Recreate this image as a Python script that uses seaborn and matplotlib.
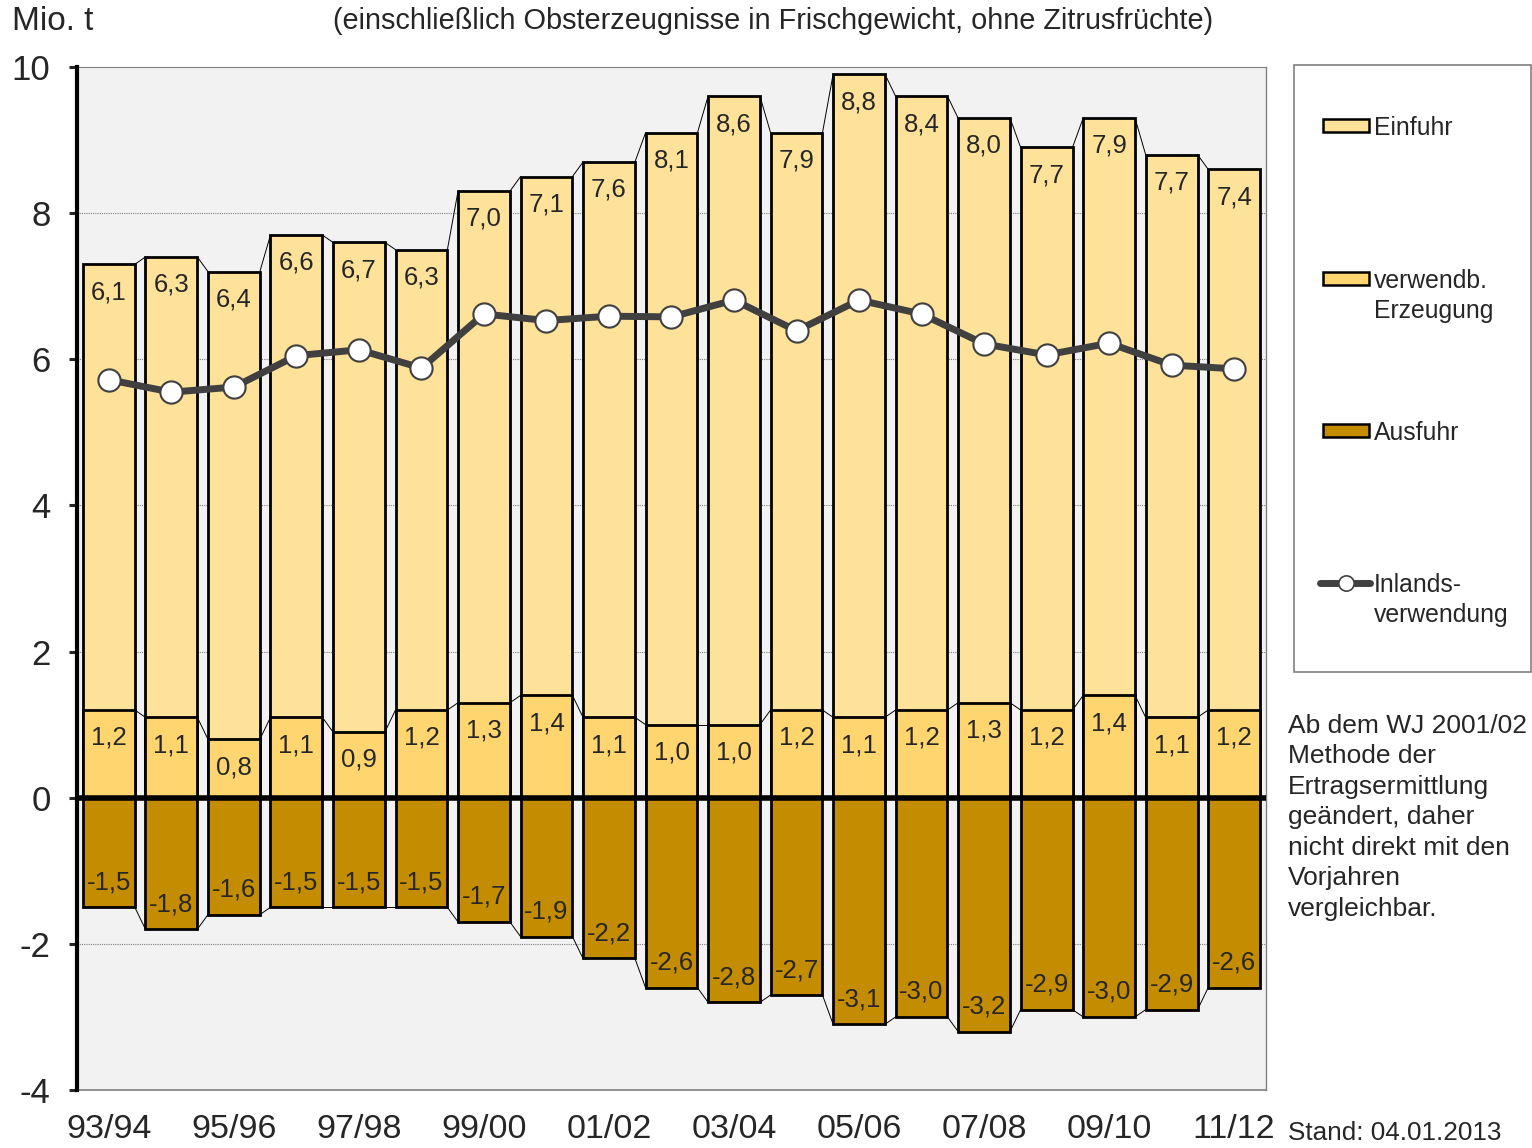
import numpy as np
import seaborn as sns
import matplotlib.pyplot as plt
from matplotlib.patches import Rectangle
from matplotlib.lines import Line2D

# Wirtschaftsjahre
years = ["93/94", "94/95", "95/96", "96/97", "97/98", "98/99", "99/00", "00/01",
         "01/02", "02/03", "03/04", "04/05", "05/06", "06/07", "07/08", "08/09",
         "09/10", "10/11", "11/12"]
einfuhr = [6.1, 6.3, 6.4, 6.6, 6.7, 6.3, 7.0, 7.1, 7.6, 8.1, 8.6, 7.9, 8.8, 8.4,
           8.0, 7.7, 7.9, 7.7, 7.4]
erzeugung = [1.2, 1.1, 0.8, 1.1, 0.9, 1.2, 1.3, 1.4, 1.1, 1.0, 1.0, 1.2, 1.1, 1.2,
             1.3, 1.2, 1.4, 1.1, 1.2]
ausfuhr = [-1.5, -1.8, -1.6, -1.5, -1.5, -1.5, -1.7, -1.9, -2.2, -2.6, -2.8, -2.7,
           -3.1, -3.0, -3.2, -2.9, -3.0, -2.9, -2.6]
inland = [5.72, 5.55, 5.62, 6.05, 6.13, 5.88, 6.62, 6.53, 6.59, 6.58, 6.81, 6.39,
          6.81, 6.62, 6.21, 6.06, 6.22, 5.92, 5.87]

c_ein = "#FFE29A"
c_erz = "#FFD56F"
c_aus = "#C48C00"
c_line = "#404040"

sns.set_style("white")
plt.rcParams['font.family'] = ['Liberation Sans', 'DejaVu Sans']
plt.rcParams['axes.unicode_minus'] = False

fig = plt.figure(figsize=(15.32, 11.48), dpi=100)
ax = fig.add_axes([77/1532, 1-1090/1148, (1266-77)/1532, (1090-67)/1148])
ax.set_facecolor("#F2F2F2")

n = len(years)
w = 0.83
total = [a + b for a, b in zip(einfuhr, erzeugung)]

bar_kw = dict(width=w, saturation=1, edgecolor="black", linewidth=2.0, ax=ax, order=years)
sns.barplot(x=years, y=total, color=c_ein, **bar_kw)
sns.barplot(x=years, y=erzeugung, color=c_erz, **bar_kw)
sns.barplot(x=years, y=ausfuhr, color=c_aus, **bar_kw)

# Verbindungslinien zwischen den Säulen
for lvl in (total, erzeugung, ausfuhr):
    for i in range(n - 1):
        ax.plot([i + w/2, i + 1 - w/2], [lvl[i], lvl[i+1]], color="black", lw=0.7, zorder=2)

ax.axhline(0, color="black", lw=4, zorder=3)

sns.lineplot(x=np.arange(n), y=inland, color=c_line, lw=5, marker="o", markersize=16,
             markerfacecolor="white", markeredgecolor=c_line, markeredgewidth=1.5,
             ax=ax, zorder=5)

def fmt(v):
    return f"{v:.1f}".replace(".", ",")

lab_fs = 18.5
for i in range(n):
    ax.annotate(fmt(einfuhr[i]), (i, total[i]), xytext=(0, -20), textcoords="offset points",
                ha="center", va="center", fontsize=lab_fs, zorder=6)
    ax.annotate(fmt(erzeugung[i]), (i, erzeugung[i]), xytext=(0, -20), textcoords="offset points",
                ha="center", va="center", fontsize=lab_fs, zorder=6)
    ax.annotate(fmt(ausfuhr[i]), (i, ausfuhr[i]), xytext=(0, 18), textcoords="offset points",
                ha="center", va="center", fontsize=lab_fs, zorder=6)

ax.set_xlim(-0.51, n - 0.49)
ax.set_ylim(-4, 10)
ax.set_yticks(range(-4, 11, 2))
ax.set_xticks(range(0, n, 2))
ax.set_xticklabels(years[::2])
ax.set_xlabel("")
ax.set_ylabel("")
ax.tick_params(axis="x", length=0, pad=17, labelsize=24.5)
ax.tick_params(axis="y", length=6, width=2.2, direction="out", pad=13, labelsize=25, left=True)

ax.set_axisbelow(True)
ax.yaxis.grid(True, color="#808080", linestyle=(0, (1, 1)), lw=0.8)
ax.spines["left"].set_linewidth(3)
ax.spines["left"].set_color("black")
ax.spines["left"].set_zorder(7)
ax.spines["top"].set_color("#808080")
ax.spines["top"].set_linestyle((0, (1, 1)))
ax.spines["top"].set_linewidth(0.8)
ax.spines["right"].set_color("#808080")
ax.spines["right"].set_linewidth(1)
ax.spines["bottom"].set_color("#808080")
ax.spines["bottom"].set_linewidth(1.2)

# Texte außerhalb des Diagramms
W, H = 1532, 1148
def fx(x):
    return x / W
def fy(y):
    return 1 - y / H

fig.text(fx(12), fy(21), "Mio. t", fontsize=24, va="center", ha="left")
fig.text(fx(773), fy(21), "(einschließlich Obsterzeugnisse in Frischgewicht, ohne Zitrusfrüchte)",
         fontsize=20.8, va="center", ha="center")
fig.text(fx(1288), fy(714), "Ab dem WJ 2001/02\nMethode der\nErtragsermittlung\ngeändert, daher\n"
         "nicht direkt mit den\nVorjahren\nvergleichbar.", fontsize=19, va="top", ha="left",
         linespacing=1.34)
fig.text(fx(1288), fy(1133), "Stand: 04.01.2013", fontsize=18.8, va="center", ha="left")

# Legende
fig.add_artist(Rectangle((fx(1294), fy(672)), fx(1531) - fx(1294), fy(65) - fy(672),
                         transform=fig.transFigure, facecolor="white", edgecolor="#808080", lw=1.2))
leg_fs = 17.8
entries = [("Einfuhr", c_ein, 126), ("verwendb.\nErzeugung", c_erz, 279), ("Ausfuhr", c_aus, 431)]
for label, col, yy in entries:
    fig.add_artist(Rectangle((fx(1323), fy(yy + 6)), fx(1369) - fx(1323), fy(yy - 7) - fy(yy + 6),
                             transform=fig.transFigure, facecolor=col, edgecolor="black", lw=1.8))
    fig.text(fx(1374), fy(yy - 10), label, fontsize=leg_fs, va="top", ha="left", linespacing=1.32)
fig.add_artist(Line2D([fx(1320), fx(1370)], [fy(583), fy(583)], transform=fig.transFigure,
                      color=c_line, lw=5, solid_capstyle="round"))
fig.add_artist(Line2D([fx(1346)], [fy(583)], transform=fig.transFigure, color=c_line,
                      marker="o", markersize=11, markerfacecolor="white", markeredgewidth=1.2, lw=0))
fig.text(fx(1374), fy(583 - 10), "Inlands-\nverwendung", fontsize=leg_fs, va="top", ha="left",
         linespacing=1.32)

plt.savefig("out.png", dpi=100)
